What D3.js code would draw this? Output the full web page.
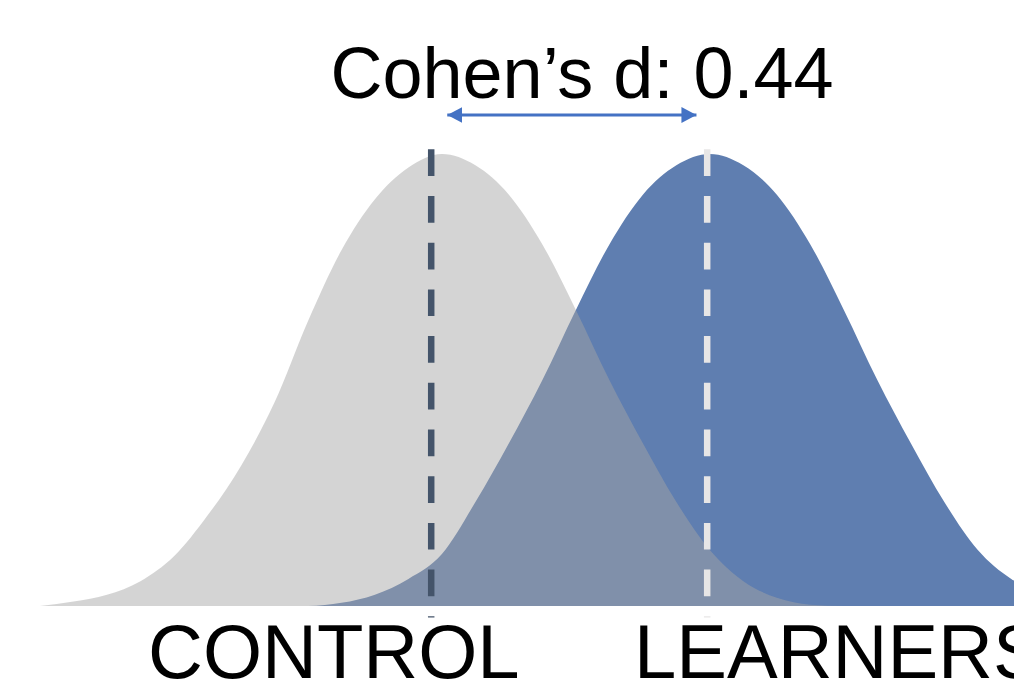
<!DOCTYPE html>
<html>
<head>
<meta charset="utf-8">
<script src="https://cdn.jsdelivr.net/npm/d3@7"></script>
<style>
  body { margin: 0; background: #fff; }
  svg { display: block; font-family: "Liberation Sans", Arial, sans-serif; }
</style>
</head>
<body>
<div id="chart"></div>
<script>
// score grid (standardised units) and curve heights
const gridZ = [-3, -2.75, -2.5, -2.25, -2, -1.75, -1.5, -1.25, -1, -0.75, -0.5, -0.25, 0,
  0.25, 0.5, 0.75, 1, 1.25, 1.5, 1.75, 2, 2.25, 2.5, 2.75, 3, 3.25, 3.5, 3.75, 4, 4.25, 4.5];
const controlHeights = [0, 0.01, 0.025, 0.055, 0.11, 0.2, 0.31, 0.45, 0.63, 0.787, 0.9, 0.97, 1,
  0.975, 0.91, 0.8, 0.655, 0.5, 0.36, 0.23, 0.124, 0.055, 0.018, 0.003, 0, 0, 0, 0, 0, 0, 0];
const learnerHeights = [0, 0, 0, 0, 0, 0, 0, 0, 0, 0.007, 0.025, 0.06, 0.115,
  0.23, 0.36, 0.5, 0.655, 0.8, 0.91, 0.975, 1, 0.975, 0.91, 0.8, 0.655, 0.5, 0.36, 0.23, 0.124, 0.06, 0.025];
const groupLabels = ["CONTROL", "LEARNERS"];
const groupMeans = [-0.08, 1.98];
const arrowSpan = [0.04, 1.9];
const titleText = "Cohen\u2019s d: 0.44";

const width = 1014, height = 693;

const x = d3.scaleLinear().domain([-3, 4.3]).range([40, 1018]);
const y = d3.scaleLinear().domain([0, 1]).range([606, 154]);

const svg = d3.select("#chart").append("svg").attr("width", width).attr("height", height);

const area = d3.area()
  .x((d) => x(d[0]))
  .y0(y(0))
  .y1((d) => y(d[1]))
  .curve(d3.curveMonotoneX);

// learners curve underneath, control curve translucent on top
svg.append("path")
  .datum(d3.zip(gridZ, learnerHeights))
  .attr("fill", "#5f7eb0")
  .attr("d", area);

svg.append("path")
  .datum(d3.zip(gridZ, controlHeights))
  .attr("fill", "#a4a4a4")
  .attr("fill-opacity", 0.475)
  .attr("d", area);

// mean lines
const lineColors = ["#44546a", "#e7e6e6"];
svg.selectAll("line.mean")
  .data(groupMeans)
  .join("line")
  .attr("class", "mean")
  .attr("x1", (d) => x(d))
  .attr("x2", (d) => x(d))
  .attr("y1", y(1) - 4.7)
  .attr("y2", y(0) + 11.5)
  .attr("stroke", (d, i) => lineColors[i])
  .attr("stroke-width", 6.5)
  .attr("stroke-dasharray", "26.7 20");

// double arrow for the effect size
const defs = svg.append("defs");
defs.append("marker")
  .attr("id", "head")
  .attr("markerUnits", "userSpaceOnUse")
  .attr("viewBox", "0 0 15 16")
  .attr("refX", 15)
  .attr("refY", 8)
  .attr("markerWidth", 15)
  .attr("markerHeight", 16)
  .attr("orient", "auto-start-reverse")
  .append("path")
  .attr("d", "M0,0L15,8L0,16Z")
  .attr("fill", "#4472c4");

svg.append("line")
  .attr("x1", x(arrowSpan[0]))
  .attr("x2", x(arrowSpan[1]))
  .attr("y1", 115)
  .attr("y2", 115)
  .attr("stroke", "#4472c4")
  .attr("stroke-width", 3)
  .attr("marker-start", "url(#head)")
  .attr("marker-end", "url(#head)");

// title
svg.append("text")
  .attr("x", 582)
  .attr("y", 98)
  .attr("text-anchor", "middle")
  .attr("font-size", 72)
  .attr("fill", "#000")
  .text(titleText);

// group labels (LEARNERS runs off the right edge, as in the original)
const labelX = [148, 634];
svg.selectAll("text.group")
  .data(groupLabels)
  .join("text")
  .attr("class", "group")
  .attr("x", (d, i) => labelX[i])
  .attr("y", 678)
  .attr("font-size", 76)
  .attr("fill", "#000")
  .text((d) => d);
</script>
</body>
</html>
